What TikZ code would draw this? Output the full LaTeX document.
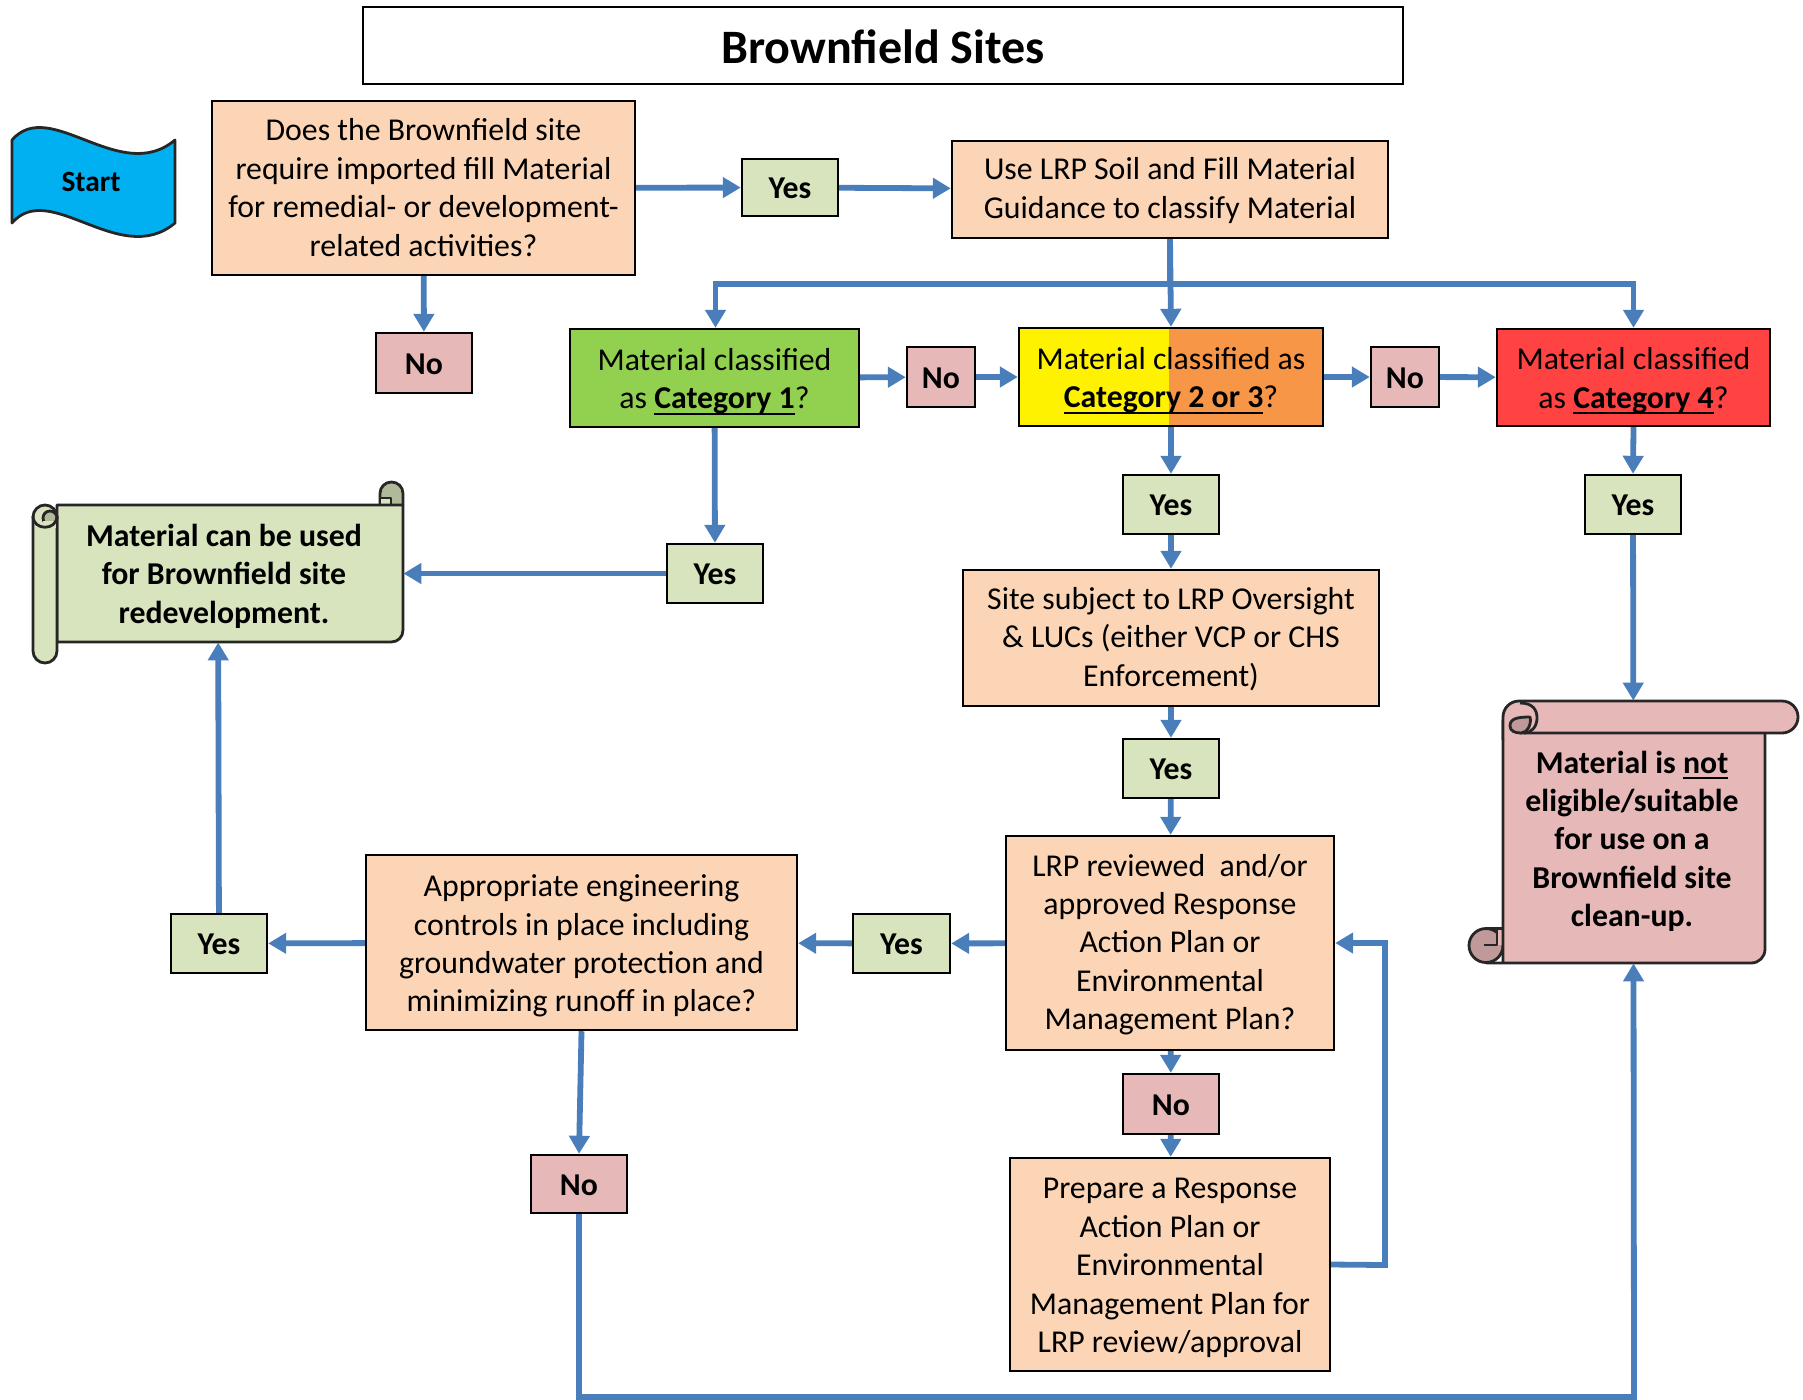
\documentclass[tikz,border=0pt]{standalone}
\usepackage{fontspec}
\setmainfont{Carlito}
\usetikzlibrary{arrows.meta}
\definecolor{peach}{HTML}{FBD5B5}
\definecolor{pale}{HTML}{D7E4BD}
\definecolor{paled}{HTML}{B0BA9A}
\definecolor{pink}{HTML}{E6B9B8}
\definecolor{pinkd}{HTML}{C09A9A}
\definecolor{catg}{HTML}{92D050}
\definecolor{catr}{HTML}{FF4343}
\definecolor{cato}{HTML}{F79646}
\definecolor{sky}{HTML}{00B0F0}
\definecolor{flow}{HTML}{4A7EBB}
\newcommand\bodyfont{\fontsize{15.9}{19.2}\selectfont}
\tikzset{
  edge/.style={draw=black,line width=1.2pt},
  label text/.style={inner sep=0pt,align=center,text=black,font=\bodyfont},
  bold text/.style={inner sep=0pt,align=center,text=black,font=\bodyfont\bfseries},
  flowline/.style={draw=flow,line width=2.9pt,-{Triangle[length=9pt,width=10pt]}},
  outl/.style={draw=black!85,line width=1.4pt,line join=round}
}
\newcommand\ulbold[1]{\setbox0\hbox{\textbf{#1}}\rlap{\rule[-3.1pt]{\wd0}{1pt}}\box0}
% name, box style, x1,y1,x2,y2, text shift (px), text style, text
\newcommand\bx[9]{\node[edge,inner sep=0pt,minimum width={(#5-#3)*0.5pt},minimum height={(#6-#4)*0.5pt},#2] (#1) at ({(#3+#5)/2},{(#4+#6)/2}) {};
\node[#8] (#1t) at ({(#3+#5)/2},{(#4+#6)/2+#7}) {#9};}
\begin{document}
\begin{tikzpicture}[x=0.5pt,y=-0.5pt]
\useasboundingbox (0,0) rectangle (1803,1399);
% title
\bx{title}{line width=1pt}{363}{7}{1403}{84}{1.5}{inner sep=0pt,text=black,font=\fontsize{24}{28}\selectfont\bfseries}{Brownfield Sites}
% start flag
\draw[outl,fill=sky] (12,140) .. controls (50,96) and (120,186) .. (175,140) -- (175,223) .. controls (120,269) and (50,179) .. (12,223) -- cycle;
\node[inner sep=0pt,font=\fontsize{14.7}{18}\selectfont\bfseries] (start) at (91,182) {Start};
% boxes
\bx{q1}{fill=peach}{212}{101}{635}{275}{-0.5}{label text}{Does the Brownfield site\\require imported fill Material\\for remedial- or development-\\related activities?}
\bx{y1}{fill=pale}{742}{159}{838}{216}{1}{bold text}{Yes}
\bx{use}{fill=peach}{952}{141}{1388}{238}{1}{label text}{Use LRP Soil and Fill Material\\Guidance to classify Material}
\bx{n1}{fill=pink}{376}{333}{472}{393}{1}{bold text}{No}
\bx{c1}{fill=catg}{570}{329}{859}{427}{3.5}{label text}{Material classified\\as \ulbold{Category 1}?}
\bx{n2}{fill=pink}{907}{347}{975}{407}{1}{bold text}{No}
\bx{c2}{fill=yellow,path picture={\fill[cato] ([xshift=-1pt]path picture bounding box.north) rectangle (path picture bounding box.south east);}}{1019}{328}{1323}{426}{3.5}{label text}{Material classified as\\\ulbold{Category 2 or 3}?}
\bx{n3}{fill=pink}{1371}{347}{1439}{407}{1}{bold text}{No}
\bx{c4}{fill=catr}{1497}{329}{1770}{426}{3.5}{label text}{Material classified\\as \ulbold{Category 4}?}
\bx{y4}{fill=pale}{1585}{475}{1681}{534}{1}{bold text}{Yes}
\bx{y2}{fill=pale}{1123}{475}{1219}{534}{1}{bold text}{Yes}
\bx{yc}{fill=pale}{667}{544}{763}{603}{1}{bold text}{Yes}
\bx{site}{fill=peach}{963}{570}{1379}{706}{1}{label text}{Site subject to LRP Oversight\\\& LUCs (either VCP or CHS\\Enforcement)}
\bx{y3}{fill=pale}{1123}{739}{1219}{798}{1}{bold text}{Yes}
\bx{lrp}{fill=peach}{1006}{836}{1334}{1050}{1.5}{label text}{LRP reviewed\ \ and/or\\approved Response\\Action Plan or\\Environmental\\Management Plan?}
\bx{y5}{fill=pale}{853}{914}{950}{973}{1}{bold text}{Yes}
\bx{app}{fill=peach}{366}{855}{797}{1030}{3.5}{label text}{Appropriate engineering\\controls in place including\\groundwater protection and\\minimizing runoff in place?}
\bx{y6}{fill=pale}{171}{914}{267}{973}{1}{bold text}{Yes}
\bx{n4}{fill=pink}{1123}{1074}{1219}{1134}{1}{bold text}{No}
\bx{prep}{fill=peach}{1010}{1158}{1330}{1371}{3.5}{label text}{Prepare a Response\\Action Plan or\\Environmental\\Management Plan for\\LRP review/approval}
\bx{n5}{fill=pink}{531}{1155}{627}{1213}{1}{bold text}{No}
% green scroll
\draw[outl,fill=paled,rounded corners=5.7pt] (380,505) -- (380,482) -- (403,482) -- (403,505);
\draw[outl,fill=pale] (380,505) -- (380,498) -- (391,498) -- (391,505);
\draw[outl,fill=pale] (403,505) -- (403,630) .. controls (403,637) and (398,642) .. (391,642) -- (57,642) -- (57,505) -- cycle;
\draw[outl,fill=pale,rounded corners=6pt] (57,516) -- (57,663) -- (33,663) -- (33,505) -- (57,505) -- (57,516);
\draw[outl,fill=paled] (50,518) circle[radius=7];
\fill[pale] (42.5,521) -- (57,521) -- (57,528) -- (42.5,528) -- cycle;
\draw[outl] (33,516) .. controls (33,531) and (57,531) .. (57,516);
\draw[outl] (57,516) -- (57,642);
\node[minimum width=185pt,minimum height=68.5pt,inner sep=0pt] (gs) at (218,573.5) {};
\node[bold text] (gtext) at (224,576.3) {Material can be used\\for Brownfield site\\redevelopment.};
% red scroll
\draw[outl,fill=pinkd] (1486,945.5) circle[radius=17];
\fill[pink] (1497,930) rectangle (1503,945);
\draw[outl] (1486,928.5) -- (1503,928.5);
\draw[outl] (1484,945) -- (1497,945) -- (1497,930);
\draw[outl,fill=pink] (1503,963) -- (1503,720) -- (1765,720) -- (1765,949) .. controls (1765,957) and (1759,963) .. (1751,963) -- (1486,963);
\draw[outl,fill=pink,rounded corners=8pt] (1520,733) -- (1798,733) -- (1798,701) -- (1503,701) -- (1503,740);
\draw[outl,fill=pinkd] (1510,726) .. controls (1510,719) and (1516,717) .. (1530,717) .. controls (1532,724) and (1527,733) .. (1521,733) .. controls (1515,733) and (1510,731) .. (1510,726) -- cycle;
\draw[outl] (1520,703) .. controls (1533,703) and (1537,710) .. (1537,718) .. controls (1537,726) and (1532,733) .. (1524,733);
\node[minimum width=131.5pt,minimum height=131pt,inner sep=0pt] (rs) at (1633.5,832) {};
\node[bold text] (rtext) at (1632,841.3) {Material is \ulbold{not}\\eligible/suitable\\for use on a\\Brownfield site\\clean-up.};
% connectors
\draw[flowline] (q1) -- (y1);
\draw[flowline] (y1) -- (use);
\draw[flowline] (q1) -- (n1);
\draw[flowline] (use.south) -- (c2.north);
\coordinate (busy) at (1170,284);
\draw[flowline] (use.south) -- (busy) -| ([xshift=0.5pt]c1.north);
\draw[flowline] (use.south) -- (busy) -| (c4.north);
\draw[flowline] (c1) -- (n2);
\draw[flowline] (n2) -- (c2);
\draw[flowline] (c2) -- (n3);
\draw[flowline] (n3) -- (c4);
\draw[flowline] (c1) -- (yc);
\draw[flowline] (yc) -- (gs);
\draw[flowline] (c2) -- (y2);
\draw[flowline] (y2) -- (site);
\draw[flowline] (site) -- (y3);
\draw[flowline] (y3) -- (lrp);
\draw[flowline] (lrp) -- (y5);
\draw[flowline] (y5) -- (app);
\draw[flowline] (app) -- (y6);
\draw[flowline] (y6) -- (gs);
\draw[flowline] (lrp) -- (n4);
\draw[flowline] (n4) -- (prep);
\coordinate (ret) at (1385,1265);
\draw[flowline] (prep.east) -- (ret) |- (lrp.east);
\draw[flowline] (app.south) -- (n5.north);
\draw[flowline] (c4.south) -- (y4.north);
\draw[flowline] (y4) -- (rs);
\coordinate (botl) at (579,1397);
\coordinate (botr) at (1634,1397);
\draw[flowline] (n5.south) -- (botl) -- (botr) -- (rs.south);
\end{tikzpicture}
\end{document}
